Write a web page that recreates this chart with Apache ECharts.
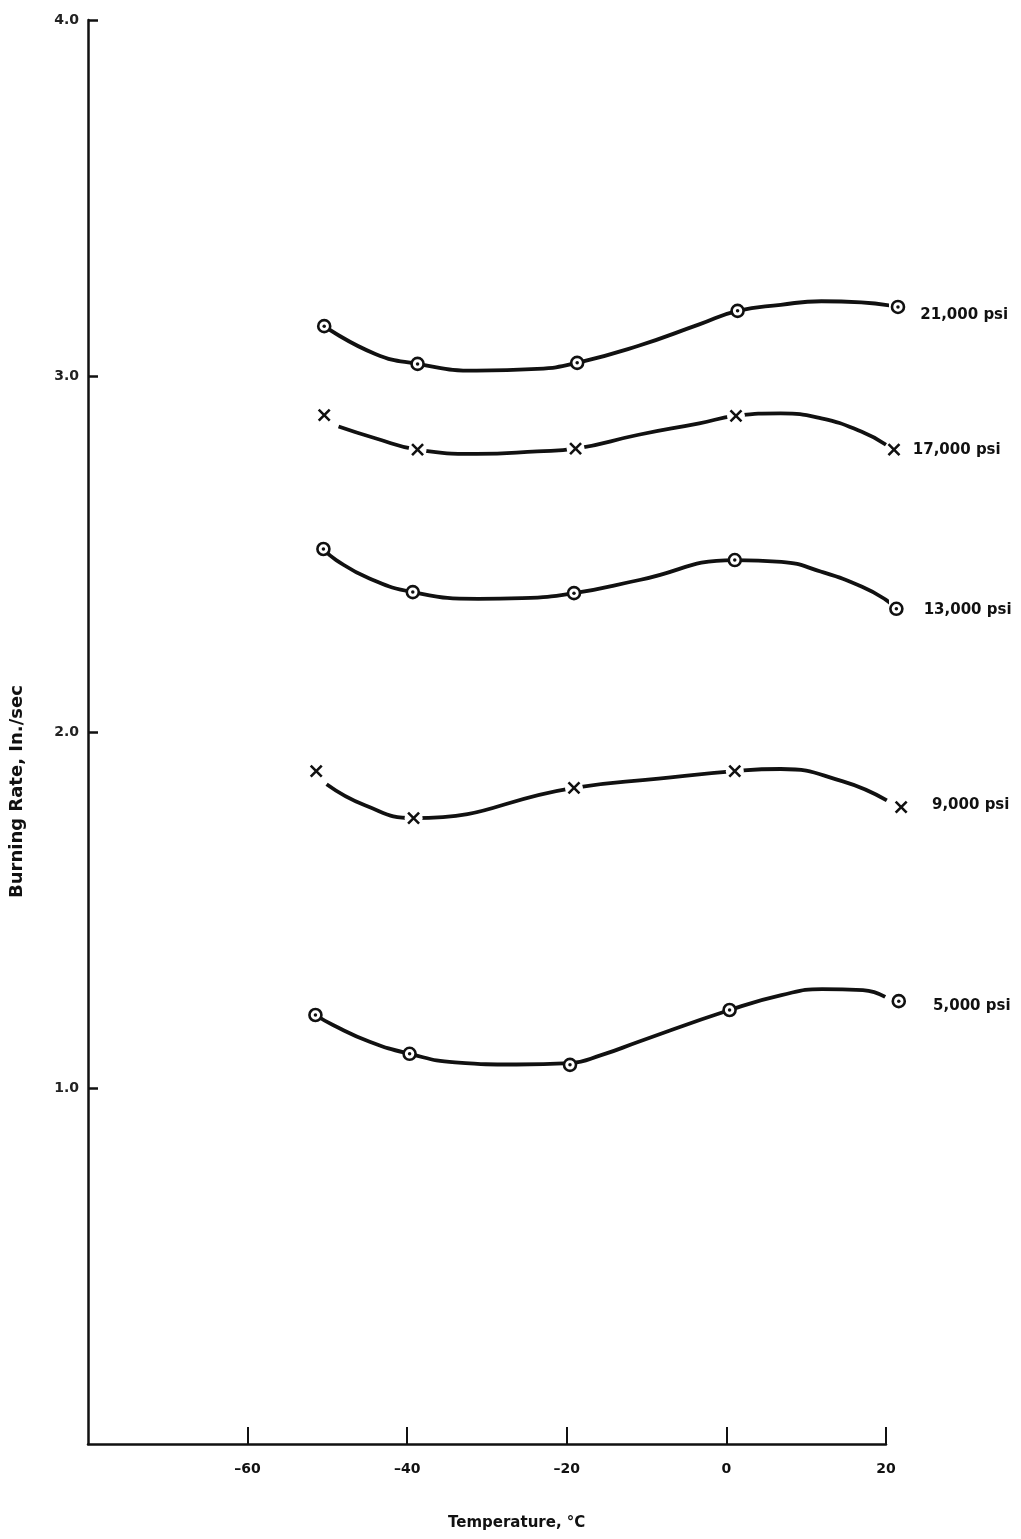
<!DOCTYPE html>
<html>
<head>
<meta charset="utf-8">
<script src="https://cdn.jsdelivr.net/npm/echarts@6/dist/echarts.min.js"></script>
<style>
html,body{margin:0;padding:0;background:#fff;}
#chart{width:1021px;height:1539px;}
</style>
</head>
<body>
<div id="chart"></div>
<script>
// ---- Data ----
const xTicks = [-60, -40, -20, 0, 20];
const yTicks = ['1.0', '2.0', '3.0', '4.0'];
const seriesNames = ['21,000 psi', '17,000 psi', '13,000 psi', '9,000 psi', '5,000 psi'];
const markerKinds = ['dot', 'x', 'dot', 'x', 'dot'];

// measured points (temperature °C, burning rate in./sec)
const temps21 = [-50.4, -38.7, -18.7, 1.4, 21.5];
const rate21  = [3.14, 3.034, 3.037, 3.183, 3.194];
const temps17 = [-50.4, -38.7, -18.9, 1.2, 21.0];
const rate17  = [2.89, 2.793, 2.796, 2.888, 2.793];
const temps13 = [-50.5, -39.3, -19.1, 1.05, 21.3];
const rate13  = [2.514, 2.393, 2.390, 2.483, 2.346];
const temps9  = [-51.4, -39.2, -19.1, 1.05, 21.9];
const rate9   = [1.890, 1.758, 1.843, 1.890, 1.789];
const temps5  = [-51.5, -39.7, -19.6, 0.4, 21.6];
const rate5   = [1.205, 1.096, 1.065, 1.219, 1.244];

// hand-drawn fitted curves
const curve21 = [[-50.4,3.14],[-44,3.062],[-38.7,3.034],[-31.3,3.015],[-23.7,3.02],[-18.7,3.037],[-11,3.085],[-3.4,3.145],[1.4,3.183],[6.8,3.20],[11.9,3.21],[16.9,3.207],[21.5,3.194]];
const curve17 = [[-48.6,2.858],[-44.0,2.825],[-38.7,2.793],[-31.3,2.781],[-23.7,2.788],[-18.9,2.796],[-11.0,2.835],[-3.4,2.867],[1.2,2.888],[6.8,2.895],[11.9,2.881],[16.9,2.844],[20.0,2.807]];
const curve13 = [[-50.5,2.514],[-48.9,2.483],[-44.8,2.432],[-39.3,2.393],[-31.1,2.374],[-25.6,2.376],[-19.1,2.390],[-10.9,2.427],[1.05,2.483],[6.9,2.478],[11.9,2.45],[17.0,2.408],[20.0,2.371],[21.3,2.346]];
const curve9  = [[-50.1,1.853],[-45.3,1.794],[-39.2,1.758],[-19.1,1.843],[-8.5,1.869],[1.05,1.890],[6.8,1.896],[14.5,1.862],[20.1,1.808]];
const curve5  = [[-51.5,1.205],[-49.3,1.177],[-44.7,1.130],[-39.7,1.096],[-34.0,1.072],[-26.3,1.066],[-19.6,1.07],[-15.6,1.093],[-11.0,1.130],[0.4,1.219],[6.9,1.261],[12.0,1.278],[17.1,1.275],[19.9,1.256]];

const allTemps = [temps21, temps17, temps13, temps9, temps5];
const allRates = [rate21, rate17, rate13, rate9, rate5];
const allCurves = [curve21, curve17, curve13, curve9, curve5];
// label offsets (layout only)
const labelOffsets = [[15, 8], [12, 0], [20, 1], [24, -2], [27, 5]];

const INK = '#111';
const FONT = '"DejaVu Sans", "Liberation Sans", sans-serif';

function lastLabel(name, k, i, n) {
  return i === n - 1 ? {
    show: true, formatter: name, position: 'right', distance: 0,
    offset: labelOffsets[k], color: INK, fontFamily: FONT, fontSize: 15, fontWeight: 'bold'
  } : {show: false};
}

const series = [];
seriesNames.forEach((name, k) => {
  const pts = allTemps[k].map((t, i) => [t, allRates[k][i]]);
  series.push({
    type: 'line', name: name + ' curve', data: allCurves[k],
    smooth: 0.5, showSymbol: false, symbol: 'none', clip: false, z: 2,
    lineStyle: {color: INK, width: 3.8}, silent: true
  });
  if (markerKinds[k] === 'x') {
    series.push({
      type: 'scatter', name: name + ' halo', data: pts, clip: false, z: 3, silent: true,
      symbol: 'circle', symbolSize: 18, itemStyle: {color: '#fff', opacity: 1}
    });
    series.push({
      type: 'scatter', name: name, clip: false, z: 4, silent: true,
      symbol: 'path://M0,0L10,10M10,0L0,10', symbolSize: 11,
      itemStyle: {color: INK, borderColor: INK, borderWidth: 2.6, opacity: 1},
      data: pts.map((p, i) => ({value: p, label: lastLabel(name, k, i, pts.length)}))
    });
  } else {
    series.push({
      type: 'scatter', name: name, clip: false, z: 4, silent: true,
      symbol: 'circle', symbolSize: 12,
      itemStyle: {color: '#fff', borderColor: INK, borderWidth: 2.6, opacity: 1},
      data: pts.map((p, i) => ({value: p, label: lastLabel(name, k, i, pts.length)}))
    });
    series.push({
      type: 'scatter', name: name + ' dot', data: pts, clip: false, z: 5, silent: true,
      symbol: 'circle', symbolSize: 3.5, itemStyle: {color: INK, opacity: 1}
    });
  }
});

const chart = echarts.init(document.getElementById('chart'), null, {renderer: 'canvas'});
chart.setOption({
  animation: false,
  backgroundColor: '#fff',
  grid: {left: 88, right: 135, top: 20, bottom: 95, containLabel: false},
  xAxis: {
    type: 'value', min: -80, max: 20, interval: 20,
    axisLine: {show: true, onZero: false, lineStyle: {color: INK, width: 2.5}},
    axisTick: {show: true, inside: true, length: 17, lineStyle: {color: INK, width: 2}},
    splitLine: {show: false},
    axisLabel: {
      showMinLabel: false, margin: 18, color: INK, fontFamily: FONT, fontSize: 14, fontWeight: 'bold',
      formatter: v => xTicks.indexOf(v) >= 0 ? String(v).replace('-', '\u2013') : ''
    }
  },
  yAxis: {
    type: 'value', min: 0, max: 4, interval: 1,
    axisLine: {show: true, onZero: false, lineStyle: {color: INK, width: 2.5}},
    axisTick: {show: true, inside: true, length: 10, lineStyle: {color: INK, width: 2.5}},
    splitLine: {show: false},
    axisLabel: {
      showMinLabel: false, margin: 9, color: '#222', fontFamily: FONT, fontSize: 14, fontWeight: 'bold',
      formatter: v => yTicks[Math.round(v) - 1] || ''
    }
  },
  graphic: [
    {
      type: 'text', left: 448, top: 1516,
      style: {text: 'Temperature, °C', fill: INK, font: 'bold 15px ' + FONT}
    },
    {
      type: 'text', x: 8, y: 898, rotation: Math.PI / 2,
      style: {text: 'Burning Rate, In./sec', fill: INK, font: 'bold 18px ' + FONT}
    }
  ],
  series: series
});
</script>
</body>
</html>
